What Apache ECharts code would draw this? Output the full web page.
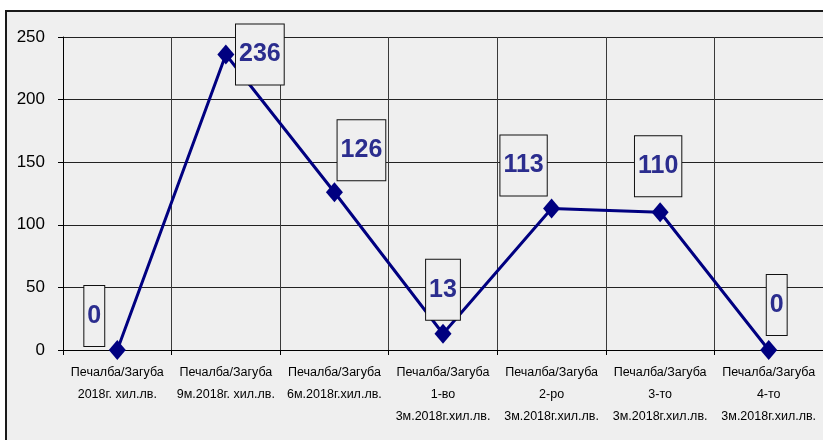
<!DOCTYPE html>
<html>
<head>
<meta charset="utf-8">
<script src="https://cdn.jsdelivr.net/npm/echarts@6/dist/echarts.min.js"></script>
<style>
  html, body { margin: 0; padding: 0; background: #ffffff; }
  #chart { width: 823px; height: 440px; }
</style>
</head>
<body>
<div id="chart"></div>
<script>
// data
var categories = [
  'Печалба/Загуба\n2018г. хил.лв.',
  'Печалба/Загуба\n9м.2018г. хил.лв.',
  'Печалба/Загуба\n6м.2018г.хил.лв.',
  'Печалба/Загуба\n1-во\n3м.2018г.хил.лв.',
  'Печалба/Загуба\n2-ро\n3м.2018г.хил.лв.',
  'Печалба/Загуба\n3-то\n3м.2018г.хил.лв.',
  'Печалба/Загуба\n4-то\n3м.2018г.хил.лв.'
];
var profitValues = [0, 236, 126, 13, 113, 110, 0];
var yTicks = [0, 50, 100, 150, 200, 250];

// where each value box sits relative to its point (px)
var labelNudges = [[-23, -34], [34, 0], [27, -42], [0, -44], [-28, -43], [-2, -46], [8, -45]];

var baseFont = '"Liberation Sans", Arial, sans-serif';

var chart = echarts.init(document.getElementById('chart'));

var seriesData = profitValues.map(function (v, i) {
  return {
    value: v,
    label: { offset: labelNudges[i] }
  };
});

var option = {
  backgroundColor: '#ffffff',
  animation: false,
  graphic: [{
    type: 'rect',
    z: -10,
    shape: { x: 6, y: 11, width: 900, height: 500 },
    style: { fill: '#efefef', stroke: '#1a1a1a', lineWidth: 2 }
  }],
  grid: { left: 63, top: 37, right: -3, bottom: 90, containLabel: false },
  xAxis: {
    type: 'category',
    data: categories,
    boundaryGap: true,
    axisLine: { show: true, lineStyle: { color: '#000', width: 1 } },
    axisTick: { show: true, length: 5, alignWithLabel: false, lineStyle: { color: '#000' } },
    splitLine: { show: true, lineStyle: { color: '#3a3a3a', width: 1 } },
    axisLabel: {
      interval: 0,
      margin: 12,
      color: '#000',
      fontFamily: baseFont,
      fontSize: 12.5,
      lineHeight: 22
    }
  },
  yAxis: {
    type: 'value',
    min: 0,
    max: 250,
    interval: 50,
    axisLine: { show: true, lineStyle: { color: '#000', width: 1 } },
    axisTick: { show: true, length: 5, lineStyle: { color: '#000' } },
    splitLine: { show: true, lineStyle: { color: '#222', width: 1 } },
    axisLabel: {
      margin: 18,
      color: '#000',
      fontFamily: baseFont,
      fontSize: 17,
      formatter: function (v) { return yTicks.indexOf(v) >= 0 ? String(v) : ''; }
    }
  },
  series: [{
    type: 'line',
    data: seriesData,
    symbol: 'diamond',
    symbolSize: [17, 20],
    itemStyle: { color: '#000080' },
    lineStyle: { color: '#000080', width: 3 },
    label: {
      show: true,
      position: 'inside',
      color: '#2b2d8e',
      fontFamily: baseFont,
      fontWeight: 'bold',
      fontSize: 25,
      lineHeight: 26,
      backgroundColor: '#efefef',
      borderColor: '#111',
      borderWidth: 1,
      padding: [17, 3]
    }
  }]
};

chart.setOption(option);
</script>
</body>
</html>
